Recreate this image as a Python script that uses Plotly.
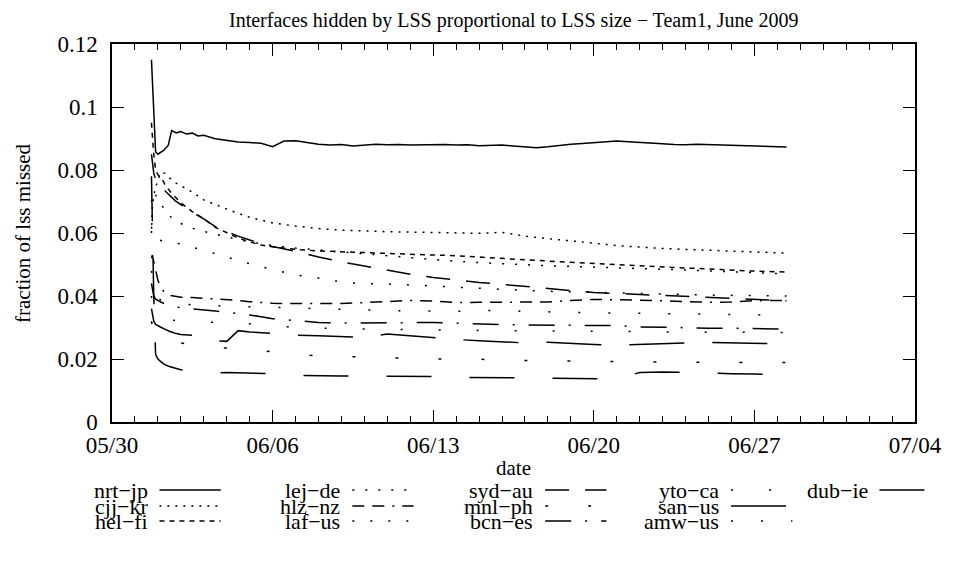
import pandas as pd
import plotly.graph_objects as go

# ---------------------------------------------------------------------------
# Data: fraction of LSS missed, sampled in days since 2009-05-30 00:00
# ---------------------------------------------------------------------------
START = pd.Timestamp("2009-05-30")

DAYS = [1.72, 1.76, 1.82, 1.9, 2.0, 2.15, 2.3, 2.5, 2.75, 3.0, 3.5, 4.0, 4.5,
        5.0, 5.5, 6.0, 6.5, 7.0, 8, 9, 10, 11, 12, 13, 14, 15, 16, 17, 18,
        19, 20, 21, 22, 23, 24, 25, 26, 27, 28, 29, 29.4]

NRT_DAYS = [1.72, 1.76, 1.80, 1.85, 1.90, 2.0, 2.25, 2.45, 2.6, 2.8, 3.0, 3.25,
            3.5, 3.75, 4.0, 4.5, 5.0, 5.5, 6.0, 6.5, 7.0, 7.5, 8.0, 8.5, 9.0,
            9.5, 10.0, 10.5, 11.0, 11.5, 12.0, 12.5, 13.0, 13.5, 14.0, 14.5,
            15.0, 15.5, 16.0, 16.5, 17.0, 17.5, 18.0, 18.5, 19.0, 19.5, 20.0,
            20.5, 21.0, 21.5, 22.0, 22.5, 23.0, 23.5, 24.0, 24.5, 25.0, 25.5,
            26.0, 26.5, 27.0, 27.5, 28.0, 28.5, 29.0, 29.4]

nrt_jp = [0.1150, 0.1080, 0.0990, 0.0900, 0.0858, 0.0850, 0.0862, 0.0878,
          0.0925, 0.0918, 0.0922, 0.0914, 0.0917, 0.0908, 0.0910, 0.0899,
          0.0893, 0.0889, 0.0887, 0.0885, 0.0874, 0.0892, 0.0893, 0.0887,
          0.0882, 0.0879, 0.0881, 0.0876, 0.0878, 0.0882, 0.0880, 0.0881,
          0.0879, 0.0880, 0.0882, 0.0881, 0.0879, 0.0880, 0.0877, 0.0879,
          0.0879, 0.0876, 0.0873, 0.0871, 0.0874, 0.0879, 0.0882, 0.0884,
          0.0887, 0.0891, 0.0892, 0.0890, 0.0887, 0.0884, 0.0883, 0.0881,
          0.0880, 0.0882, 0.0881, 0.0879, 0.0878, 0.0877, 0.0876, 0.0875,
          0.0873, 0.0873]

cjj_kr = [0.060, 0.068, 0.072, 0.074, 0.077, 0.0792, 0.0790, 0.0775, 0.0760,
          0.0750, 0.0730, 0.0705, 0.0690, 0.0675, 0.0662, 0.0650, 0.0640,
          0.0632, 0.0622, 0.0614, 0.0609, 0.0606, 0.0604, 0.0603, 0.0601,
          0.0600, 0.0599, 0.0602, 0.0590, 0.0582, 0.0576, 0.0568, 0.0560,
          0.0555, 0.0551, 0.0548, 0.0545, 0.0542, 0.0539, 0.0537, 0.0536]

hel_fi = [0.095, 0.090, 0.085, 0.080, 0.0785, 0.0775, 0.0755, 0.0735, 0.0715,
          0.0695, 0.0668, 0.0645, 0.0618, 0.0600, 0.0584, 0.0572, 0.0562,
          0.0556, 0.0548, 0.0543, 0.0540, 0.0537, 0.0535, 0.0533, 0.0530,
          0.0528, 0.0523, 0.0519, 0.0515, 0.0511, 0.0507, 0.0503, 0.0500,
          0.0496, 0.0492, 0.0489, 0.0486, 0.0482, 0.0479, 0.0477, 0.0476]

lej_de = [0.070, 0.072, 0.073, 0.072, 0.071, 0.069, 0.0673, 0.0655, 0.0640,
          0.0630, 0.0615, 0.0605, 0.0596, 0.0588, 0.0579, 0.0572, 0.0565,
          0.0560, 0.0552, 0.0546, 0.0540, 0.0535, 0.0528, 0.0521, 0.0515,
          0.0510, 0.0506, 0.0502, 0.0499, 0.0496, 0.0494, 0.0491, 0.0489,
          0.0487, 0.0485, 0.0483, 0.0480, 0.0477, 0.0474, 0.0471, 0.0470]

hlz_nz = [0.052, 0.053, 0.051, 0.048, 0.045, 0.0425, 0.0410, 0.0402, 0.0398,
          0.0396, 0.0395, 0.0393, 0.0390, 0.0388, 0.0386, 0.0382, 0.0379,
          0.0377, 0.0376, 0.0375, 0.0376, 0.0379, 0.0382, 0.0386, 0.0384,
          0.0379, 0.0380, 0.0381, 0.0380, 0.0381, 0.0386, 0.0389, 0.0388,
          0.0387, 0.0385, 0.0382, 0.0380, 0.0381, 0.0385, 0.0386, 0.0385]

laf_us = [0.062, 0.060, 0.059, 0.058, 0.0578, 0.0576, 0.0575, 0.0573, 0.0570,
          0.0565, 0.0555, 0.0545, 0.0534, 0.0524, 0.0512, 0.0502, 0.0493,
          0.0484, 0.0467, 0.0457, 0.0444, 0.0439, 0.0438, 0.0436, 0.0432,
          0.0428, 0.0424, 0.0421, 0.0418, 0.0415, 0.0413, 0.0411, 0.0409,
          0.0407, 0.0405, 0.0404, 0.0403, 0.0402, 0.0401, 0.0400, 0.0400]

syd_au = [0.085, 0.082, 0.079, 0.077, 0.0755, 0.0745, 0.0735, 0.0720, 0.0703,
          0.0690, 0.0665, 0.0645, 0.0620, 0.0605, 0.0590, 0.0578, 0.0566,
          0.0557, 0.0542, 0.0524, 0.0508, 0.0495, 0.0482, 0.0469, 0.0459,
          0.0450, 0.0443, 0.0437, 0.0431, 0.0424, 0.0417, 0.0411, 0.0408,
          0.0405, 0.0401, 0.0398, 0.0395, 0.0392, 0.0389, 0.0386, 0.0385]

mnl_ph = [0.032, 0.030, 0.028, 0.027, 0.0265, 0.0262, 0.0260, 0.0257, 0.0253,
          0.0250, 0.0245, 0.0238, 0.0236, 0.0235, 0.0234, 0.0230, 0.0226,
          0.0222, 0.0215, 0.0210, 0.0208, 0.0206, 0.0203, 0.0201, 0.0200,
          0.0200, 0.0200, 0.0198, 0.0195, 0.0194, 0.0193, 0.0193, 0.0192,
          0.0191, 0.0190, 0.0190, 0.0189, 0.0189, 0.0189, 0.0189, 0.0189]

bcn_es = [0.044, 0.042, 0.040, 0.039, 0.0385, 0.0380, 0.0375, 0.0370, 0.0366,
          0.0363, 0.0360, 0.0356, 0.0352, 0.0348, 0.0345, 0.0340, 0.0334,
          0.0328, 0.0322, 0.0316, 0.0314, 0.0315, 0.0316, 0.0317, 0.0316,
          0.0314, 0.0311, 0.0309, 0.0308, 0.0308, 0.0308, 0.0308, 0.0306,
          0.0302, 0.0300, 0.0298, 0.0298, 0.0298, 0.0296, 0.0295, 0.0295]

yto_ca = [0.040, 0.037, 0.035, 0.034, 0.0335, 0.0330, 0.0327, 0.0325, 0.0322,
          0.0320, 0.0318, 0.0318, 0.0317, 0.0316, 0.0315, 0.0312, 0.0308,
          0.0305, 0.0300, 0.0298, 0.0296, 0.0295, 0.0294, 0.0293, 0.0292,
          0.0291, 0.0290, 0.0290, 0.0289, 0.0289, 0.0288, 0.0288, 0.0287,
          0.0287, 0.0286, 0.0286, 0.0285, 0.0285, 0.0284, 0.0284, 0.0284]

san_us = [0.036, 0.034, 0.032, 0.031, 0.0305, 0.0300, 0.0295, 0.0288, 0.0282,
          0.0278, 0.0275, 0.0266, 0.0258, 0.0256, 0.0290, 0.0286, 0.0283,
          0.0281, 0.0276, 0.0274, 0.0271, 0.0269, 0.0279, 0.0273, 0.0267,
          0.0262, 0.0258, 0.0254, 0.0251, 0.0253, 0.0249, 0.0246, 0.0244,
          0.0247, 0.0248, 0.0251, 0.0253, 0.0252, 0.0250, 0.0248, 0.0248]

amw_us = [0.048, 0.046, 0.043, 0.041, 0.0395, 0.0385, 0.0380, 0.0378, 0.0376,
          0.0374, 0.0372, 0.0370, 0.0369, 0.0367, 0.0366, 0.0364, 0.0363,
          0.0362, 0.0360, 0.0358, 0.0357, 0.0355, 0.0354, 0.0353, 0.0352,
          0.0351, 0.0355, 0.0353, 0.0350, 0.0349, 0.0348, 0.0347, 0.0346,
          0.0345, 0.0344, 0.0343, 0.0342, 0.0341, 0.0340, 0.0339, 0.0339]

dub_ie = [0.078, 0.060, 0.040, 0.0215, 0.0200, 0.0190, 0.0182, 0.0176, 0.0171,
          0.0166, 0.0160, 0.0157, 0.0156, 0.0157, 0.0156, 0.0156, 0.0155,
          0.0153, 0.0148, 0.0146, 0.0146, 0.0146, 0.0146, 0.0146, 0.0144,
          0.0142, 0.0141, 0.0140, 0.0139, 0.0138, 0.0137, 0.0138, 0.0137,
          0.0157, 0.0159, 0.0158, 0.0155, 0.0153, 0.0152, 0.0151, 0.0151]

# name, x-grid, values, dash pattern
SERIES = [
    ("nrt\u2212jp", NRT_DAYS, nrt_jp, "solid"),
    ("cjj\u2212kr", DAYS, cjj_kr, "2px,6px"),
    ("hel\u2212fi", DAYS, hel_fi, "5px,5px"),
    ("lej\u2212de", DAYS, lej_de, "2px,11px"),
    ("hlz\u2212nz", DAYS, hlz_nz, "12px,8px,12px,8px,2px,8px"),
    ("laf\u2212us", DAYS, laf_us, "2px,16px"),
    ("syd\u2212au", DAYS, syd_au, "24px,16px"),
    ("mnl\u2212ph", DAYS, mnl_ph, "3px,40px"),
    ("bcn\u2212es", DAYS, bcn_es, "26px,14px,2px,14px"),
    ("yto\u2212ca", DAYS, yto_ca, "2px,36px"),
    ("san\u2212us", DAYS, san_us, "55px,28px"),
    ("amw\u2212us", DAYS, amw_us, "2px,28px"),
    ("dub\u2212ie", DAYS, dub_ie, "45px,38px"),
]

# legend grid: (column, row) for each series name
LEGEND_SLOTS = {
    "nrt\u2212jp": (0, 0), "cjj\u2212kr": (0, 1), "hel\u2212fi": (0, 2),
    "lej\u2212de": (1, 0), "hlz\u2212nz": (1, 1), "laf\u2212us": (1, 2),
    "syd\u2212au": (2, 0), "mnl\u2212ph": (2, 1), "bcn\u2212es": (2, 2),
    "yto\u2212ca": (3, 0), "san\u2212us": (3, 1), "amw\u2212us": (3, 2),
    "dub\u2212ie": (4, 0),
}

Y_TICKS = [0, 0.02, 0.04, 0.06, 0.08, 0.1, 0.12]
Y_LABELS = ["0", "0.02", "0.04", "0.06", "0.08", "0.1", "0.12"]
X_TICKS = ["2009-05-30", "2009-06-06", "2009-06-13", "2009-06-20",
           "2009-06-27", "2009-07-04"]
X_LABELS = ["05/30", "06/06", "06/13", "06/20", "06/27", "07/04"]

TITLE = "Interfaces hidden by LSS proportional to LSS size \u2212 Team1, June 2009"

# ---------------------------------------------------------------------------
# Layout geometry (pixels)
# ---------------------------------------------------------------------------
W, H = 954, 564
PL, PR, PT, PB = 112, 924, 44, 422
FONT = "Liberation Serif"
FS_TICK, FS_TITLE, FS_LABEL, FS_KEY = 23, 20, 21, 22


def fx(px):
    return (px - PL) / (PR - PL)


def fy(py):
    return (PB - py) / (PB - PT)


def to_dates(days):
    return START + pd.to_timedelta(days, unit="D")


fig = go.Figure()
for name, grid, vals, dash in SERIES:
    fig.add_trace(go.Scatter(
        x=to_dates(grid), y=vals, mode="lines", name=name, showlegend=False,
        line=dict(color="black", width=1.5, dash=dash),
    ))

# Key below the plot: label text, then a short line sample
COL_TEXT_RIGHT = [150, 345, 540, 728, 878]
ROW_Y = [490, 506, 521]
SAMPLE_GAP, SAMPLE_LEN = 10, 62
annotations = []
shapes = []
for name, _, _, dash in SERIES:
    c, r = LEGEND_SLOTS[name]
    xr = COL_TEXT_RIGHT[c]
    yy = ROW_Y[r]
    annotations.append(dict(
        text=name, xref="paper", yref="paper", x=fx(xr), y=fy(yy),
        xanchor="right", yanchor="middle", showarrow=False,
        font=dict(family=FONT, size=FS_KEY, color="black"),
    ))
    shapes.append(dict(
        type="line", xref="paper", yref="paper",
        x0=fx(xr + SAMPLE_GAP), x1=fx(xr + SAMPLE_GAP + SAMPLE_LEN),
        y0=fy(yy), y1=fy(yy),
        line=dict(color="black", width=1.5, dash=dash),
    ))

annotations.append(dict(
    text=TITLE, xref="paper", yref="paper", x=fx(518), y=fy(20),
    xanchor="center", yanchor="middle", showarrow=False,
    font=dict(family=FONT, size=FS_TITLE, color="black"),
))
annotations.append(dict(
    text="date", xref="paper", yref="paper", x=fx(518), y=fy(468),
    xanchor="center", yanchor="middle", showarrow=False,
    font=dict(family=FONT, size=FS_LABEL, color="black"),
))
annotations.append(dict(
    text="fraction of lss missed", xref="paper", yref="paper",
    x=fx(22), y=fy(233), textangle=-90,
    xanchor="center", yanchor="middle", showarrow=False,
    font=dict(family=FONT, size=FS_LABEL, color="black"),
))

tick_style = dict(ticks="inside", tickcolor="black", tickwidth=1.2,
                  showgrid=False, zeroline=False)
minor_days = dict(ticks="inside", ticklen=6, tickcolor="black", tickwidth=1.2,
                  dtick=86400000, tick0=X_TICKS[0], showgrid=False)

fig.update_layout(
    width=W, height=H,
    margin=dict(l=PL, r=W - PR, t=PT, b=H - PB, pad=0),
    paper_bgcolor="white", plot_bgcolor="white",
    showlegend=False,
    annotations=annotations, shapes=shapes,
    xaxis=dict(
        tick_style, type="date", showline=True, linecolor="black",
        linewidth=1.5, mirror=True,
        range=[X_TICKS[0], X_TICKS[-1]],
        tickmode="array", tickvals=X_TICKS, ticktext=X_LABELS, ticklen=12,
        ticklabelstandoff=2, minor=minor_days,
        tickfont=dict(family=FONT, size=FS_TICK, color="black"),
    ),
    yaxis=dict(
        tick_style, showline=True, linecolor="black", linewidth=1.5,
        mirror=True, range=[0, 0.12],
        tickmode="array", tickvals=Y_TICKS, ticktext=Y_LABELS, ticklen=12,
        ticklabelstandoff=8,
        tickfont=dict(family=FONT, size=FS_TICK, color="black"),
    ),
    # tick marks repeated along the top and right borders
    xaxis2=dict(
        tick_style, type="date", overlaying="x", side="top", anchor="y",
        range=[X_TICKS[0], X_TICKS[-1]], showticklabels=False,
        tickmode="array", tickvals=X_TICKS, ticklen=12, minor=minor_days,
    ),
    yaxis2=dict(
        tick_style, overlaying="y", side="right", anchor="x",
        range=[0, 0.12], showticklabels=False,
        tickmode="array", tickvals=Y_TICKS, ticklen=12,
    ),
)
# invisible anchor trace so the mirrored tick axes are drawn
fig.add_trace(go.Scatter(x=[X_TICKS[0]], y=[0], xaxis="x2", yaxis="y2",
                         mode="markers", marker=dict(opacity=0),
                         showlegend=False, hoverinfo="skip"))

fig.write_html("out.html")
